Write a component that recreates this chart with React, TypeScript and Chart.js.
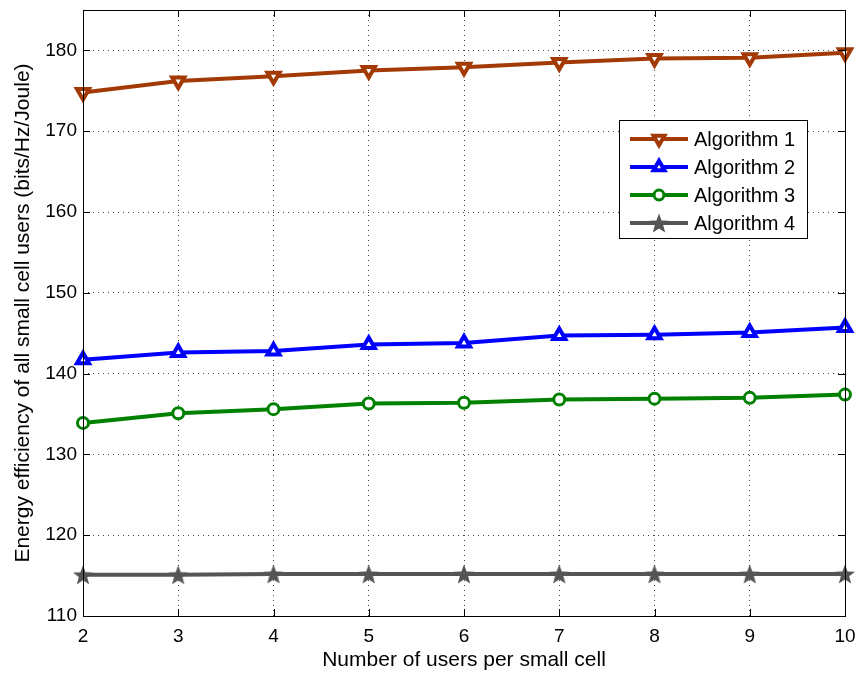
import React, { useEffect, useRef } from "react";
import { Chart, registerables } from "chart.js";
import { drawPoint } from "chart.js/helpers";

Chart.register(...registerables);

const xValues = [2, 3, 4, 5, 6, 7, 8, 9, 10];
const alg1 = [174.8, 176.2, 176.8, 177.5, 177.9, 178.5, 179.0, 179.1, 179.7];
const alg2 = [141.7, 142.6, 142.8, 143.6, 143.8, 144.7, 144.8, 145.1, 145.7];
const alg3 = [133.9, 135.1, 135.6, 136.3, 136.4, 136.8, 136.9, 137.0, 137.4];
const alg4 = [115.1, 115.1, 115.2, 115.2, 115.2, 115.2, 115.2, 115.2, 115.2];
const seriesNames = ["Algorithm 1", "Algorithm 2", "Algorithm 3", "Algorithm 4"];
const yTicks = [110, 120, 130, 140, 150, 160, 170, 180];
const xTicks = [2, 3, 4, 5, 6, 7, 8, 9, 10];

const FONT = "'Liberation Sans', Arial, sans-serif";

function makeStar(color: string, size: number) {
  const c = document.createElement("canvas");
  c.width = size;
  c.height = size;
  const ctx = c.getContext("2d")!;
  const cx = size / 2, cy = size / 2 + 1;
  const R = size / 2 - 0.5, r = R * 0.42;
  ctx.beginPath();
  for (let i = 0; i < 10; i++) {
    const a = -Math.PI / 2 + (i * Math.PI) / 5;
    const rr = i % 2 === 0 ? R : r;
    const px = cx + rr * Math.cos(a), py = cy + rr * Math.sin(a);
    if (i === 0) ctx.moveTo(px, py); else ctx.lineTo(px, py);
  }
  ctx.closePath();
  ctx.fillStyle = color;
  ctx.fill();
  return c;
}

export default function App() {
  const ref = useRef<HTMLCanvasElement>(null);
  useEffect(() => {
    const star = makeStar("#555555", 22);
    const colors = ["#A33A06", "#0000FF", "#008000", "#555555"];
    const mk = (vals: number[]) => vals.map((v, i) => ({ x: xValues[i], y: v }));
    const datasets: any[] = [
      { label: seriesNames[0], data: mk(alg1), borderColor: colors[0], backgroundColor: "rgba(0,0,0,0)", pointStyle: "triangle", rotation: 180, pointRadius: 7, pointBorderWidth: 4, pointBorderColor: colors[0], pointBackgroundColor: "#ffffff", borderWidth: 4, clip: false },
      { label: seriesNames[1], data: mk(alg2), borderColor: colors[1], backgroundColor: "rgba(0,0,0,0)", pointStyle: "triangle", rotation: 0, pointRadius: 7, pointBorderWidth: 4, pointBorderColor: colors[1], pointBackgroundColor: "#ffffff", borderWidth: 4, clip: false },
      { label: seriesNames[2], data: mk(alg3), borderColor: colors[2], backgroundColor: "rgba(0,0,0,0)", pointStyle: "circle", pointRadius: 5.5, pointBorderWidth: 3, pointBorderColor: colors[2], pointBackgroundColor: "#ffffff", borderWidth: 4, clip: false },
      { label: seriesNames[3], data: mk(alg4), borderColor: colors[3], backgroundColor: colors[3], pointStyle: star, pointRadius: 11, borderWidth: 4, clip: false },
    ];

    const frame = {
      id: "frame",
      afterDraw(chart: any) {
        const { ctx, chartArea: a, scales } = chart;
        ctx.save();
        ctx.strokeStyle = "#000";
        ctx.lineWidth = 1;
        ctx.strokeRect(a.left + 0.5, a.top + 0.5, a.right - a.left, a.bottom - a.top);
        ctx.beginPath();
        for (const t of xTicks) {
          const px = Math.round(scales.x.getPixelForValue(t)) + 0.5;
          ctx.moveTo(px, a.bottom); ctx.lineTo(px, a.bottom - 7);
          ctx.moveTo(px, a.top); ctx.lineTo(px, a.top + 7);
        }
        for (const t of yTicks) {
          const py = Math.round(scales.y.getPixelForValue(t)) + 0.5;
          ctx.moveTo(a.left, py); ctx.lineTo(a.left + 7, py);
          ctx.moveTo(a.right, py); ctx.lineTo(a.right - 7, py);
        }
        ctx.stroke();

        // legend
        const bx = 619, by = 120, bw = 188, bh = 118;
        ctx.fillStyle = "#fff";
        ctx.fillRect(bx, by, bw, bh);
        ctx.strokeRect(bx + 0.5, by + 0.5, bw, bh);
        ctx.font = `20px ${FONT}`;
        ctx.textBaseline = "middle";
        chart.data.datasets.forEach((ds: any, i: number) => {
          const y = by + 19 + i * 28;
          ctx.strokeStyle = ds.borderColor;
          ctx.lineWidth = 4;
          ctx.beginPath();
          ctx.moveTo(630, y); ctx.lineTo(688, y);
          ctx.stroke();
          ctx.lineWidth = ds.pointBorderWidth || 1;
          ctx.strokeStyle = ds.pointBorderColor || ds.borderColor;
          ctx.fillStyle = ds.pointBackgroundColor || ds.backgroundColor;
          const r = ds.pointRadius * 0.9;
          drawPoint(ctx, { pointStyle: ds.pointStyle, rotation: ds.rotation || 0, radius: r, borderWidth: ds.pointBorderWidth || 1 } as any, 659, y);
          ctx.fillStyle = "#000";
          ctx.fillText(ds.label, 694, y + 1);
        });
        ctx.restore();
      },
    };

    const chart = new Chart(ref.current!, {
      type: "line",
      data: { datasets },
      plugins: [frame],
      options: {
        animation: false,
        responsive: false,
        maintainAspectRatio: false,
        layout: { autoPadding: false, padding: { top: 10, right: 17, left: 0, bottom: 0 } },
        plugins: { legend: { display: false }, tooltip: { enabled: false } },
        elements: { line: { tension: 0 } },
        scales: {
          x: {
            type: "linear",
            min: 2,
            max: 10,
            afterBuildTicks: (s: any) => { s.ticks = xTicks.map((v) => ({ value: v })); },
            afterFit: (s: any) => { s.height = 59; s.paddingLeft = 0; s.paddingRight = 0; },
            grid: { color: "#444", lineWidth: 1, drawTicks: false } as any,
            border: { display: false, dash: [1, 4] } as any,
            ticks: { color: "#000", font: { family: FONT, size: 19 }, padding: 9, maxRotation: 0 },
            title: { display: true, text: "Number of users per small cell", color: "#000", font: { family: FONT, size: 21 }, padding: { top: 0, bottom: 2 } },
          },
          y: {
            type: "linear",
            min: 110,
            max: 185,
            afterBuildTicks: (s: any) => { s.ticks = yTicks.map((v) => ({ value: v })); },
            afterFit: (s: any) => { s.width = 83; s.paddingTop = 0; s.paddingBottom = 0; },
            grid: { color: "#444", lineWidth: 1, drawTicks: false } as any,
            border: { display: false, dash: [1, 4] } as any,
            ticks: { color: "#000", font: { family: FONT, size: 19 }, padding: 6 },
            title: { display: true, text: "Energy efficiency of all small cell users (bits/Hz/Joule)", color: "#000", font: { family: FONT, size: 21 }, padding: { top: 11, bottom: 0 } },
          },
        },
      } as any,
    });
    return () => chart.destroy();
  }, []);
  return (
    <div style={{ position: "absolute", left: 0, top: 0, width: 862, height: 675, background: "#fff" }}>
      <canvas ref={ref} width={862} height={675} style={{ display: "block" }} />
    </div>
  );
}
